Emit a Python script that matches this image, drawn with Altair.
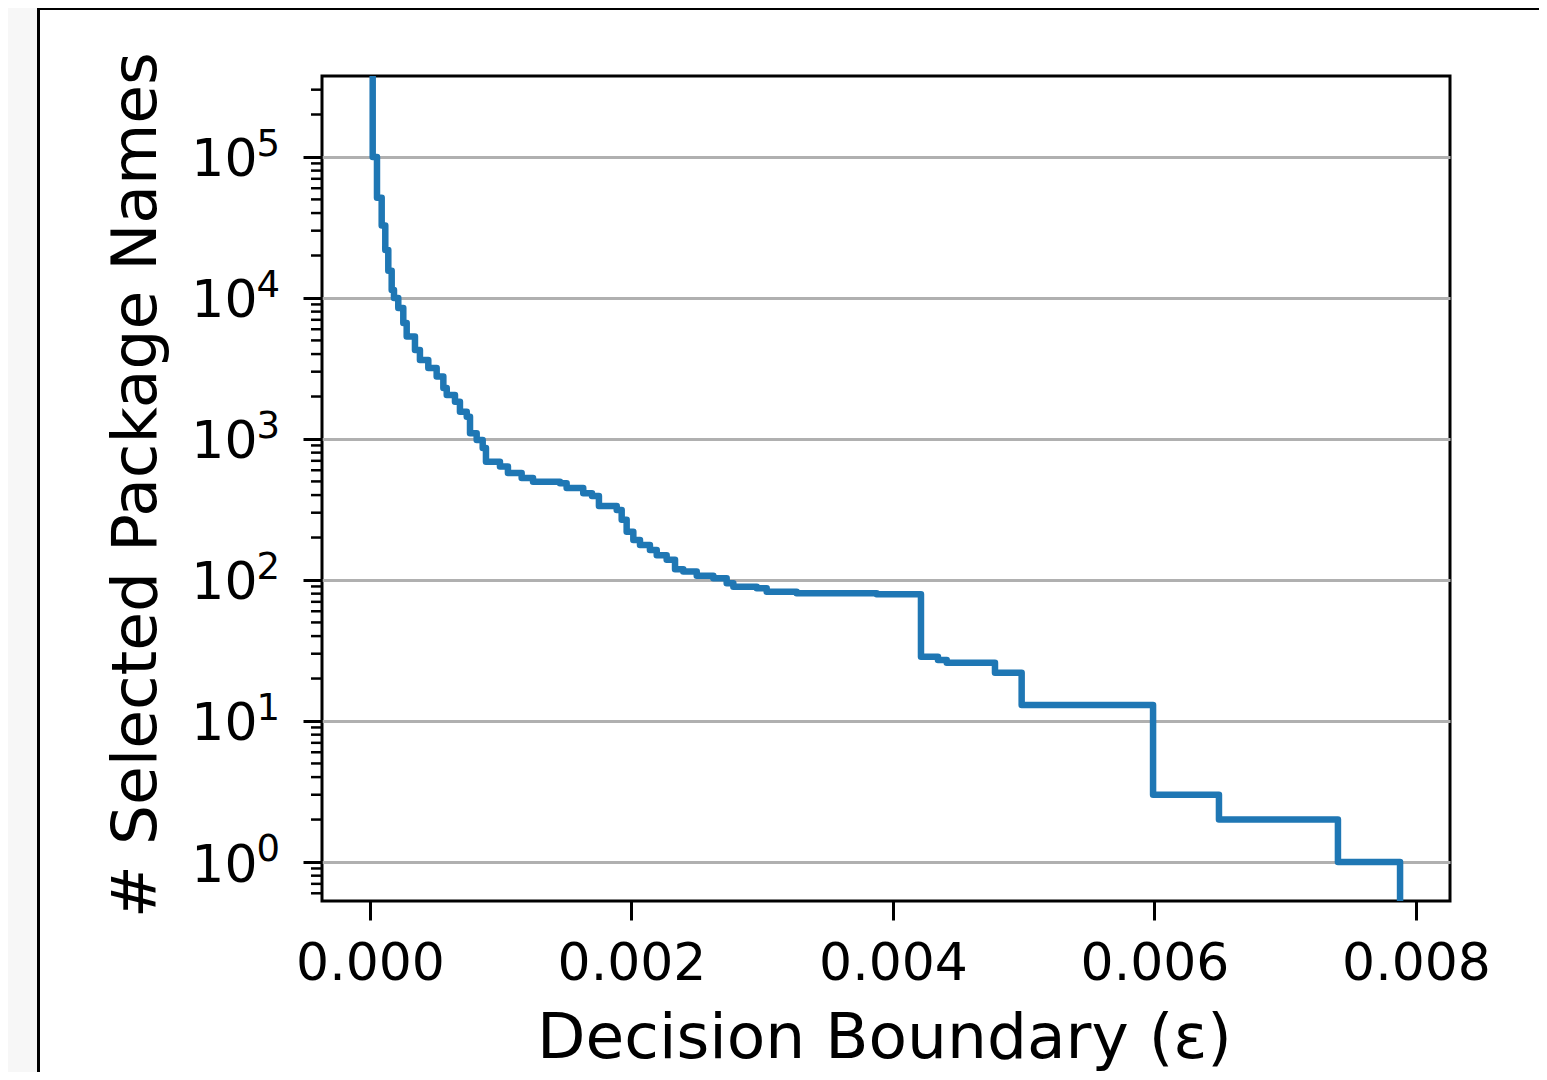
import altair as alt
import pandas as pd

# Step curve: (epsilon where the level starts, number of selected package names)
eps = [2.07e-5, 2.07e-5, 5.35e-5, 8.95e-5, 1.17e-4, 1.40e-4, 1.66e-4, 1.836e-4,
       2.164e-4, 2.547e-4, 2.807e-4, 3.44e-4, 3.82e-4, 4.46e-4, 5.10e-4, 5.61e-4,
       5.87e-4, 6.50e-4, 6.88e-4, 7.40e-4, 7.65e-4, 8.16e-4, 8.62e-4, 8.87e-4,
       9.94e-4, 1.055e-3, 1.160e-3, 1.247e-3, 1.453e-3, 1.504e-3, 1.631e-3, 1.698e-3,
       1.751e-3, 1.887e-3, 1.925e-3, 1.963e-3, 2.014e-3, 2.065e-3, 2.141e-3, 2.193e-3,
       2.269e-3, 2.333e-3, 2.396e-3, 2.499e-3, 2.626e-3, 2.728e-3, 2.779e-3, 2.958e-3,
       3.034e-3, 3.263e-3, 3.875e-3, 4.214e-3, 4.344e-3, 4.411e-3, 4.780e-3, 4.984e-3,
       5.989e-3, 6.493e-3, 7.403e-3, 7.878e-3]
counts = [400000, 100000, 51400, 32600, 21900, 15600, 11400, 10000,
          8490, 6650, 5320, 4280, 3630, 3190, 2770, 2300,
          2050, 1840, 1560, 1440, 1100, 984, 863, 690,
          637, 574, 529, 498, 485, 449, 412, 394,
          335, 314, 267, 220, 192, 177, 163, 150,
          139, 119, 115, 107, 103, 94.8, 89.6, 87.3,
          82.6, 80.5, 79.2, 28.6, 27.1, 25.9, 22.0, 13.0,
          3, 2, 1, 0.3]

x_ticks = [0.0, 0.002, 0.004, 0.006, 0.008]
y_major = [1, 10, 100, 1000, 10000, 100000]
y_exp = ["0", "1", "2", "3", "4", "5"]
y_minor = [0.6, 0.7, 0.8, 0.9] + [m * 10 ** k for k in range(5) for m in range(2, 10)] + [200000, 300000]

FONT = "DejaVu Sans"
W, H = 1128, 825
xscale = alt.Scale(domain=[-0.000367, 0.00826], nice=False, zero=False)
yscale = alt.Scale(type="log", domain=[0.529, 375000], nice=False)

y_axis = alt.Axis(values=y_major, labelExpr="'10'", grid=True, gridColor="#b0b0b0", gridWidth=3,
                  title="# Selected Package Names", tickSize=19, tickWidth=3,
                  labelFontSize=52, labelAlign="right", labelBaseline="alphabetic",
                  labelOffset=19, labelPadding=46, labelFlush=False, labelOverlap=False,
                  titleX=-167, titleY=408.5, titleAngle=270, titleAlign="center",
                  titleBaseline="alphabetic")

df = pd.DataFrame({"eps": eps, "n": counts, "i": list(range(len(eps)))})

line = alt.Chart(df).mark_line(
    interpolate="step-after", color="#1f77b4", strokeWidth=6.5, clip=True, strokeJoin="round"
).encode(
    x=alt.X("eps:Q", scale=xscale,
            axis=alt.Axis(values=x_ticks, format=".3f", grid=False, title="Decision Boundary (ε)",
                          tickSize=19, tickWidth=3, labelFontSize=52, labelBaseline="alphabetic",
                          labelPadding=59, labelFlush=False, labelOverlap=False,
                          titleX=562, titleY=156, titleAlign="center", titleBaseline="alphabetic")),
    y=alt.Y("n:Q", scale=yscale, axis=y_axis),
    order="i:Q",
)

sup = alt.Chart(pd.DataFrame({"n": y_major, "e": y_exp})).mark_text(
    align="left", baseline="alphabetic", fontSize=37, font=FONT, color="black", dy=-1
).encode(
    x=alt.value(-65.5),
    y=alt.Y("n:Q", scale=yscale, axis=y_axis),
    text="e:N",
)

minor = alt.Chart(pd.DataFrame({"n": y_minor})).mark_rule(color="black", strokeWidth=2.5).encode(
    y=alt.Y("n:Q", scale=yscale, axis=y_axis),
    x=alt.value(-11),
    x2=alt.value(0),
)

one = pd.DataFrame({"a": [0]})
gray_strip = alt.Chart(one).mark_rect(color="#f7f7f7").encode(
    x=alt.value(-320), x2=alt.value(-285), y=alt.value(-80), y2=alt.value(1100)
)
frame_left = alt.Chart(one).mark_rule(color="black", strokeWidth=3).encode(
    x=alt.value(-283.5), y=alt.value(-69), y2=alt.value(1100)
)
frame_top = alt.Chart(one).mark_rule(color="black", strokeWidth=3).encode(
    x=alt.value(-285), x2=alt.value(1300), y=alt.value(-67.5)
)

chart = alt.layer(gray_strip, frame_left, frame_top, minor, line, sup).properties(
    width=W, height=H,
    autosize=alt.AutoSizeParams(type="none"),
    padding={"left": 314, "top": 68, "right": 89, "bottom": 171},
    background="white",
).configure_view(
    stroke="black", strokeWidth=3
).configure_axis(
    domain=False, labelFont=FONT, titleFont=FONT, labelColor="black", titleColor="black",
    tickColor="black", titleFontSize=63, titleFontWeight="normal",
)

chart.save("out.html", embed_options={"renderer": "svg", "actions": False})
